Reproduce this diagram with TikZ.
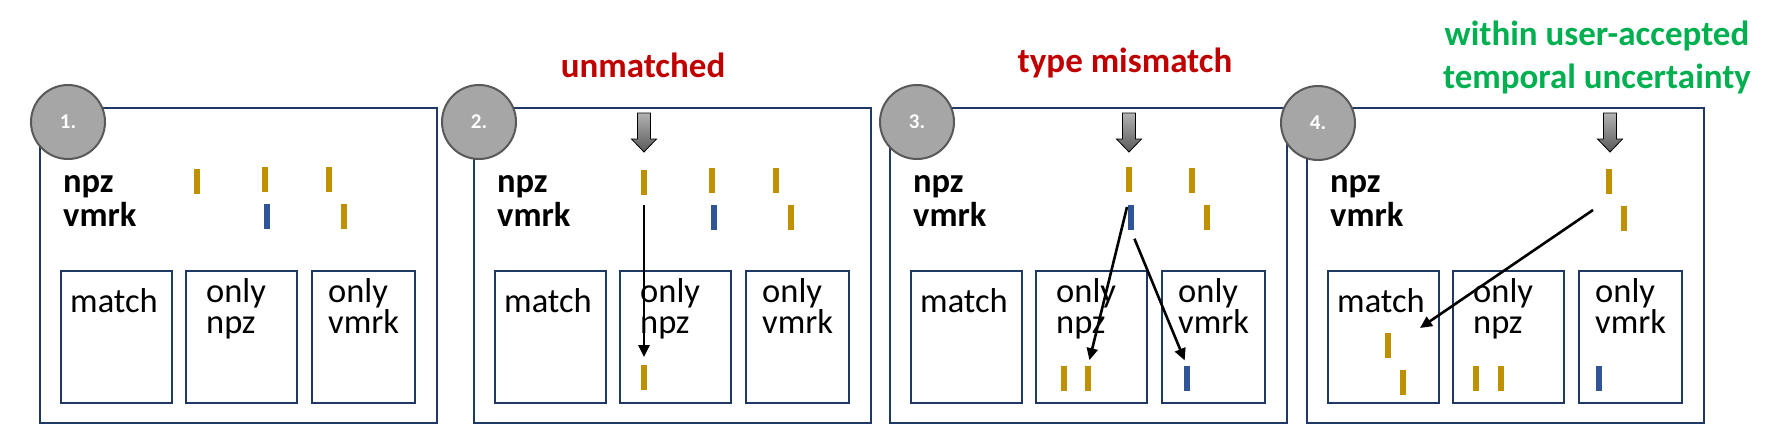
\documentclass[tikz,border=0pt]{standalone}
\usepackage{fontspec}
\setmainfont{Carlito}
\usetikzlibrary{arrows.meta}
\definecolor{gold}{HTML}{BF9000}
\definecolor{bblue}{HTML}{2F5597}
\definecolor{navy}{HTML}{1F3864}
\definecolor{cgray}{HTML}{A6A6A6}
\definecolor{cedge}{HTML}{595959}
\definecolor{tred}{HTML}{C00000}
\definecolor{tgreen}{HTML}{00B050}
\newcommand\garrow[1]{\shadedraw[top color=black!30, bottom color=black!65, draw=black, line width=0.8pt]
  (#1-6.5,113) -- (#1+6.5,113) -- (#1+6.5,139) -- (#1+12.5,139) -- (#1,152) -- (#1-12.5,139) -- (#1-6.5,139) -- cycle;}
\begin{document}
\begin{tikzpicture}[x=1pt,y=-1pt,
  panel/.style={draw=navy, line width=2.2pt, minimum width=397pt, minimum height=315pt, anchor=north west, inner sep=0pt},
  ibox/.style={draw=navy, line width=2.2pt, minimum height=132pt, anchor=north west, inner sep=0pt},
  bar/.style={fill=#1, minimum width=6pt, minimum height=25pt, inner sep=0pt, anchor=north},
  lblb/.style={inner sep=0pt, font=\fontsize{34.5}{34}\selectfont\bfseries, anchor=base west},
  lbl/.style={inner sep=0pt, font=\fontsize{34.5}{31}\selectfont, anchor=base west},
  lbl2/.style={inner sep=0pt, font=\fontsize{34.5}{31}\selectfont, align=left, anchor=north west},
  numc/.style={circle, fill=cgray, draw=cedge, line width=2pt, minimum size=74pt, inner sep=0pt, text=white, font=\fontsize{21}{21}\selectfont\bfseries},
  ttl/.style={inner sep=0pt, font=\fontsize{35}{43}\selectfont\bfseries, align=center},
  arr/.style={draw=black, line width=2.6pt, -{Triangle[length=12pt,width=11pt]}}
]
\fill[white] (0,0) rectangle (1773,436);
\useasboundingbox (0,0) rectangle (1773,436);

% panels
\foreach \x/\i in {39/1,473/2,889/3,1306/4}{
  \node[panel] (P\i) at (\x,107) {};
  \node[ibox, minimum width=111pt] (M\i) at (\x+21,270) {};
  \node[ibox, minimum width=111pt] (N\i) at (\x+146,270) {};
  \node[ibox, minimum width=103pt] (V\i) at (\x+272,270) {};
  \node[lblb] (ln\i) at (\x+24,192) {npz};
  \node[lblb] (lv\i) at (\x+24,226) {vmrk};
  \node[lbl] (tm\i) at (\x+31,312) {match};
  \node[lbl2] (tn\i) at (\x+167,278) {only\\npz};
  \node[lbl2] (tv\i) at (\x+289,278) {only\\vmrk};
}

% titles
\node[ttl, text=tred] (T2) at (643,65) {unmatched};
\node[ttl, text=tred] (T3) at (1125,63) {type mismatch};
\node[ttl, text=tgreen] (T4) at (1597,57) {within user-accepted\\temporal uncertainty};

% panel 1 bars
\node[bar=gold] (b1n1) at (197,169) {};
\node[bar=gold] (b1n2) at (265,167) {};
\node[bar=gold] (b1n3) at (329,167) {};
\node[bar=bblue] (b1v1) at (267,204) {};
\node[bar=gold] (b1v2) at (344,204) {};

% panel 2 bars
\node[bar=gold] (b2n1) at (644,170) {};
\node[bar=gold] (b2n2) at (712,168) {};
\node[bar=gold] (b2n3) at (776,168) {};
\node[bar=bblue] (b2v1) at (714,205) {};
\node[bar=gold] (b2v2) at (791,205) {};
\node[bar=gold] (b2r1) at (644,365) {};

% panel 3 bars
\node[bar=gold] (b3n1) at (1129,167) {};
\node[bar=gold] (b3n2) at (1192,168) {};
\node[bar=bblue] (b3v1) at (1131,205) {};
\node[bar=gold] (b3v2) at (1207,205) {};
\node[bar=gold] (b3r1) at (1064,366) {};
\node[bar=gold] (b3r2) at (1088,366) {};
\node[bar=bblue] (b3r3) at (1187,366) {};

% panel 4 bars
\node[bar=gold] (b4n1) at (1609,169) {};
\node[bar=gold] (b4v1) at (1624,206) {};
\node[bar=gold] (b4m1) at (1388,333) {};
\node[bar=gold] (b4m2) at (1403,370) {};
\node[bar=gold] (b4r1) at (1476,366) {};
\node[bar=gold] (b4r2) at (1501,366) {};
\node[bar=bblue] (b4r3) at (1599,366) {};

% gray block arrows
\garrow{644}
\garrow{1129}
\garrow{1610}

% black arrows
\draw[arr, shorten <=10pt, shorten >=8pt] (b2n1.south) -- (b2r1.north);
\coordinate (s3) at (1127,207);
\draw[arr, shorten >=6pt] (s3) -- (b3r2.north);
\draw[arr, shorten <=9pt, shorten >=6pt] (b3v1.south) -- (b3r3.north);
\coordinate (s4) at (1593,210);
\coordinate (e4) at (1420,328);
\draw[arr] (s4) -- (e4);

% number circles
\node[numc] (C1) at (68,122) {1.};
\node[numc] (C2) at (479,122) {2.};
\node[numc] (C3) at (917,122) {3.};
\node[numc] (C4) at (1318,123) {4.};
\end{tikzpicture}
\end{document}
